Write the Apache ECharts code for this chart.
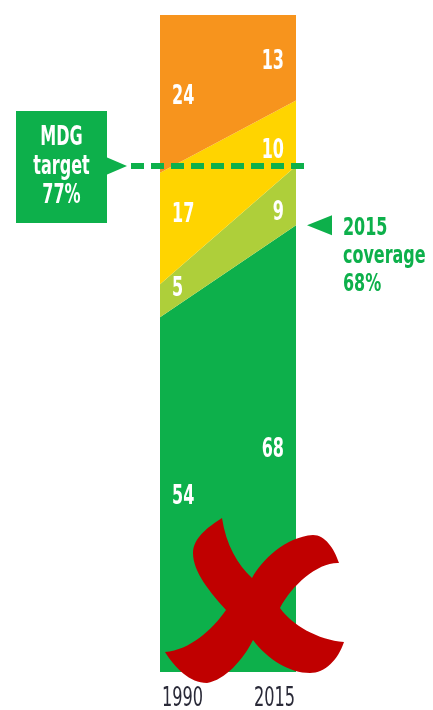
<!DOCTYPE html>
<html>
<head>
<meta charset="utf-8">
<script src="https://cdn.jsdelivr.net/npm/echarts@6/dist/echarts.min.js"></script>
<style>
  html, body { margin: 0; padding: 0; background: #fff; }
  #main { width: 433px; height: 710px; }
</style>
</head>
<body>
<div id="main"></div>
<script>
// data
var years = ['1990', '2015'];
var layerNames = ['piped', 'other improved', 'shared', 'unimproved'];
var greenVals = [54, 68];
var lightGreenVals = [5, 9];
var yellowVals = [17, 10];
var orangeVals = [24, 13];
var mdgTarget = 77;
var coverage2015 = 68;

var FONT = "'DejaVu Sans Condensed', 'DejaVu Sans', sans-serif";
var SQUEEZE = 0.66; // the original uses a condensed typeface
var colors = ['#0db04b', '#aecf3a', '#ffd400', '#f7941d'];
var layers = [greenVals, lightGreenVals, yellowVals, orangeVals];
// hand placement of the numbers inside their bands (px, per layer, per year)
var labelNudge = [[2, 1], [-12, 17], [-14, 18], [3, 4]];

var chart = echarts.init(document.getElementById('main'));

// stacked areas
var series = [];
layers.forEach(function (vals, i) {
  series.push({
    name: layerNames[i],
    type: 'line',
    stack: 'all',
    data: vals,
    symbol: 'none',
    lineStyle: { width: 0 },
    areaStyle: { color: colors[i], opacity: 1 },
    silent: true,
    z: 2
  });
});

// value labels at the middle of each band
var labelData = [];
var base = [0, 0];
layers.forEach(function (vals, i) {
  vals.forEach(function (v, j) {
    labelData.push([j, base[j] + v / 2, v, labelNudge[i][j]]);
    base[j] += v;
  });
});

series.push({
  type: 'custom',
  data: labelData,
  silent: true,
  z: 5,
  renderItem: function (params, api) {
    var j = api.value(0);
    var pt = api.coord([j, api.value(1)]);
    return {
      type: 'text',
      x: pt[0] + (j === 0 ? 12 : -12),
      y: pt[1] + api.value(3),
      scaleX: SQUEEZE,
      style: {
        text: String(api.value(2)),
        fill: '#fff',
        font: 'bold 27px ' + FONT,
        align: j === 0 ? 'left' : 'right',
        verticalAlign: 'middle'
      }
    };
  }
});

chart.setOption({
  animation: false,
  grid: { left: 160, right: 137, top: 15, bottom: 38 },
  xAxis: {
    type: 'category',
    boundaryGap: false,
    data: years,
    axisLine: { show: false },
    axisTick: { show: false },
    axisLabel: { show: false }
  },
  yAxis: { type: 'value', min: 0, max: 100, show: false },
  series: series
});

// annotations
var yT = chart.convertToPixel({ yAxisIndex: 0 }, mdgTarget);
var yC = chart.convertToPixel({ yAxisIndex: 0 }, coverage2015);
var x0 = chart.convertToPixel({ xAxisIndex: 0 }, years[0]);
var x1 = chart.convertToPixel({ xAxisIndex: 0 }, years[1]);

var crossSvg = '<svg xmlns="http://www.w3.org/2000/svg" width="433" height="710" viewBox="0 0 433 710">' +
  '<path fill="#c00000" d="M222,518 C226,545 238,565 252,578 C262,560 285,537 313,535 C325,535 334,548 339,563 ' +
  'C318,562 292,585 280,608 C292,625 318,640 344,642 C338,660 325,673 310,673 C290,673 268,660 253,640 ' +
  'C243,660 225,680 207,683 C190,683 175,668 165,652 C190,650 212,630 226,610 C210,592 193,572 193,553 ' +
  'C193,538 208,527 222,518 Z"/></svg>';

chart.setOption({
  graphic: [
    // year labels
    {
      type: 'text', x: x0 + 2, y: 699, scaleX: 0.69, z: 10,
      style: { text: years[0], fill: '#2a2a38', font: '26px ' + FONT, align: 'left', verticalAlign: 'middle' }
    },
    {
      type: 'text', x: x1 - 1, y: 699, scaleX: 0.69, z: 10,
      style: { text: years[1], fill: '#2a2a38', font: '26px ' + FONT, align: 'right', verticalAlign: 'middle' }
    },
    // MDG box
    { type: 'rect', shape: { x: 16, y: yT - 55, width: 91, height: 112 }, style: { fill: '#0db04b' }, z: 10 },
    { type: 'polygon', shape: { points: [[106, yT - 9], [127, yT], [106, yT + 9]] }, style: { fill: '#0db04b' }, z: 10 },
    {
      type: 'text', x: 61.5, y: yT + 1, scaleX: SQUEEZE, z: 11,
      style: {
        text: 'MDG\ntarget\n' + mdgTarget + '%', fill: '#fff', font: 'bold 27px ' + FONT,
        align: 'center', verticalAlign: 'middle', lineHeight: 29
      }
    },
    // dashed target line
    {
      type: 'line', shape: { x1: 131, y1: yT, x2: 311, y2: yT }, z: 10,
      style: { stroke: '#0db04b', lineWidth: 6, lineDash: [13, 7] }
    },
    // 2015 coverage pointer
    { type: 'polygon', shape: { points: [[307, yC], [332, yC - 10], [332, yC + 10]] }, style: { fill: '#0db04b' }, z: 10 },
    {
      type: 'text', x: 343, y: yC + 32, scaleX: 0.74, z: 10,
      style: {
        text: '2015\ncoverage\n' + coverage2015 + '%', fill: '#0db04b', font: 'bold 24px ' + FONT,
        align: 'left', verticalAlign: 'middle', lineHeight: 28
      }
    },
    // red cross
    {
      type: 'image', z: 20,
      style: { image: 'data:image/svg+xml;charset=utf-8,' + encodeURIComponent(crossSvg), x: 0, y: 0, width: 433, height: 710 }
    }
  ]
});
</script>
</body>
</html>
